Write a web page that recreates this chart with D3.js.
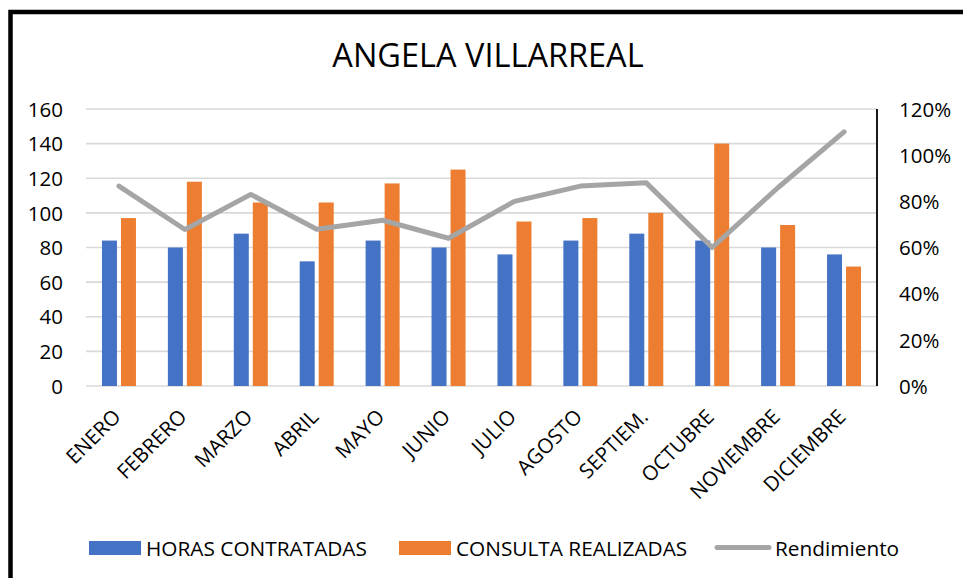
<!DOCTYPE html>
<html>
<head>
<meta charset="utf-8">
<script src="https://cdn.jsdelivr.net/npm/d3@7"></script>
<style>
  html, body { margin: 0; padding: 0; background: #fff; }
  svg { display: block; font-family: "Open Sans", "Noto Sans", sans-serif; }
</style>
</head>
<body>
<svg id="chart" width="963" height="578"></svg>
<script>
const months = ["ENERO","FEBRERO","MARZO","ABRIL","MAYO","JUNIO","JULIO","AGOSTO","SEPTIEM.","OCTUBRE","NOVIEMBRE","DICIEMBRE"];
const horasContratadas = [84, 80, 88, 72, 84, 80, 76, 84, 88, 84, 80, 76];
const consultaRealizadas = [97, 118, 106, 106, 117, 125, 95, 97, 100, 140, 93, 69];
const rendimiento = [0.866, 0.678, 0.830, 0.679, 0.718, 0.640, 0.800, 0.866, 0.880, 0.600, 0.860, 1.101];
const leftTicks = [0, 20, 40, 60, 80, 100, 120, 140, 160];
const rightTicks = [0, 0.2, 0.4, 0.6, 0.8, 1.0, 1.2];
const seriesNames = ["HORAS CONTRATADAS", "CONSULTA REALIZADAS", "Rendimiento"];
const colors = ["#4472C4", "#ED7D31", "#A5A5A5"];

const svg = d3.select("#chart");
const plot = { left: 86, right: 877, top: 109, bottom: 386 };

// frame
svg.append("rect").attr("x", 0).attr("y", 0).attr("width", 963).attr("height", 578).attr("fill", "#fff");
svg.append("path")
  .attr("d", `M10.5,578 L10.5,12 L963,12`)
  .attr("fill", "none").attr("stroke", "#000").attr("stroke-width", 4.5);

// title
svg.append("text")
  .attr("x", 488).attr("y", 67)
  .attr("text-anchor", "middle")
  .attr("font-size", 32.5)
  .attr("fill", "#000")
  .text("ANGELA VILLARREAL");

const x = d3.scaleBand().domain(months).range([plot.left, plot.right]).padding(0);
const bw = x.bandwidth();
const x1 = d3.scaleBand().domain([0, 1]).range([bw / 2 - 17, bw / 2 + 17]).paddingInner(4 / 19).paddingOuter(0);
const y = d3.scaleLinear().domain([0, 160]).range([plot.bottom, plot.top]);
const y2 = d3.scaleLinear().domain([0, 1.2]).range([plot.bottom, plot.top]);

// gridlines
svg.append("g").selectAll("line").data(leftTicks).join("line")
  .attr("x1", plot.left).attr("x2", plot.right)
  .attr("y1", d => y(d)).attr("y2", d => y(d))
  .attr("stroke", "#D9D9D9").attr("stroke-width", 1.6);

// left axis labels
const yAxis = d3.axisLeft(y).tickValues(leftTicks).tickSize(0).tickPadding(0);
const gy = svg.append("g").attr("transform", `translate(63,0)`).call(yAxis);
gy.select(".domain").remove();
gy.selectAll("text").attr("font-size", 20.5).attr("fill", "#000")
  .attr("font-family", "'Open Sans', sans-serif").attr("dy", "0.35em");

// right axis
const yAxisR = d3.axisRight(y2).tickValues(rightTicks).tickSize(0).tickPadding(0)
  .tickFormat(d => Math.round(d * 100) + "%");
const gr = svg.append("g").attr("transform", `translate(899,0)`).call(yAxisR);
gr.select(".domain").remove();
gr.selectAll("text").attr("font-size", 20.5).attr("fill", "#000")
  .attr("font-family", "'Open Sans', sans-serif").attr("dy", "0.35em");
svg.append("line")
  .attr("x1", plot.right).attr("x2", plot.right)
  .attr("y1", y2(1.2)).attr("y2", y2(0))
  .attr("stroke", "#000").attr("stroke-width", 1.8);

// bars
const barData = [];
months.forEach((m, i) => {
  barData.push({ m, s: 0, v: horasContratadas[i] });
  barData.push({ m, s: 1, v: consultaRealizadas[i] });
});
svg.append("g").selectAll("rect").data(barData).join("rect")
  .attr("x", d => x(d.m) + x1(d.s))
  .attr("width", x1.bandwidth())
  .attr("y", d => y(d.v))
  .attr("height", d => y(0) - y(d.v))
  .attr("fill", d => colors[d.s]);

// line
const line = d3.line()
  .x((d, i) => x(months[i]) + bw / 2)
  .y(d => y2(d));
svg.append("path").datum(rendimiento)
  .attr("d", line)
  .attr("fill", "none").attr("stroke", colors[2])
  .attr("stroke-width", 5).attr("stroke-linejoin", "round").attr("stroke-linecap", "round");

// x labels
svg.append("g").selectAll("text").data(months).join("text")
  .attr("transform", d => `translate(${x(d) + bw / 2 - 2},${plot.bottom + 27}) rotate(-45)`)
  .attr("text-anchor", "end")
  .attr("font-size", 20.5)
  .attr("dy", "0.35em")
  .attr("fill", "#000")
  .text(d => d);

// legend
const lg = svg.append("g");
const legendItems = [
  { name: seriesNames[0], color: colors[0], type: "rect", x: 89, tx: 146 },
  { name: seriesNames[1], color: colors[1], type: "rect", x: 399, tx: 456 },
  { name: seriesNames[2], color: colors[2], type: "line", x: 715, tx: 775 }
];
legendItems.forEach(it => {
  if (it.type === "rect") {
    lg.append("rect").attr("x", it.x).attr("y", 541).attr("width", 52).attr("height", 14).attr("fill", it.color);
  } else {
    lg.append("line").attr("x1", it.x + 2).attr("x2", it.x + 54).attr("y1", 547.5).attr("y2", 547.5)
      .attr("stroke", it.color).attr("stroke-width", 5).attr("stroke-linecap", "round");
  }
  lg.append("text").attr("x", it.tx).attr("y", 555.5).attr("font-size", 20.8).attr("fill", "#000").text(it.name);
});
</script>
</body>
</html>
